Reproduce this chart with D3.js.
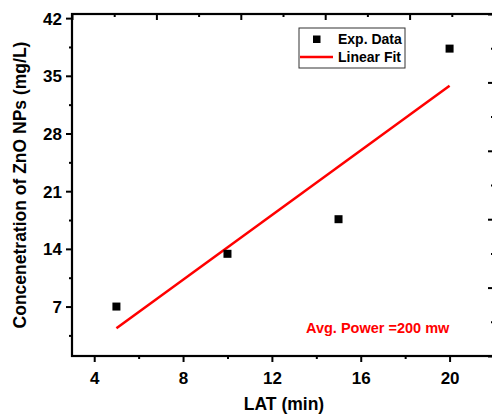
<!DOCTYPE html>
<html>
<head>
<meta charset="utf-8">
<script src="https://cdnjs.cloudflare.com/ajax/libs/d3/7.8.5/d3.min.js"></script>
<style>
  body { margin: 0; background: #fff; }
  text { font-family: "Liberation Sans", Arial, sans-serif; font-weight: bold; }
  .domain { display: none; }
</style>
</head>
<body>
<script>
var width = 492
var height = 417

// data
var lat = [5, 10, 15, 20]
var conc = [7.0, 13.4, 17.6, 38.3]
var xMajor = [4, 8, 12, 16, 20]
var xMinor = [6, 10, 14, 18]
var yMajor = [7, 14, 21, 28, 35, 42]
var yMinor = [3.5, 10.5, 17.5, 24.5, 31.5, 38.5]
var twinMajor = [0, 2, 4, 6, 8, 10]
var twinMinor = [1, 3, 5, 7, 9]

// plot box (window.top is reserved, so use other names)
var pLeft = 72, pRight = 494, pTop = 14, pBottom = 356

var svg = d3.select("body").append("svg")
    .attr("width", width)
    .attr("height", height)

var x = d3.scaleLinear().domain([3, 22]).range([pLeft, pRight])
var y = d3.scaleLinear().domain([1, 42.5]).range([pBottom, pTop])
var xt = d3.scaleLinear().domain([0, 10]).range([pLeft, pRight])
var yr = d3.scaleLinear().domain([0, 10]).range([pBottom, pTop])

function drawAxis(axis, tx, ty, size, labels) {
  var g = svg.append("g")
      .attr("transform", "translate(" + tx + "," + ty + ")")
      .call(axis.tickSize(size).tickPadding(4))
  g.selectAll(".tick line").attr("stroke", "#000").attr("stroke-width", 2)
  if (labels) g.selectAll(".tick text").attr("font-size", 17).attr("fill", "#000")
  else g.selectAll(".tick text").remove()
  return g
}

// bottom
drawAxis(d3.axisBottom(x).tickValues(xMajor).tickFormat(d3.format("d")), 0, pBottom, 6, true)
  .selectAll(".tick text").attr("dy", "1.05em")
drawAxis(d3.axisBottom(x).tickValues(xMinor), 0, pBottom, 3, false)
// left
drawAxis(d3.axisLeft(y).tickValues(yMajor).tickFormat(d3.format("d")), pLeft, 0, 6, true)
  .selectAll(".tick text").attr("dy", "0.36em")
drawAxis(d3.axisLeft(y).tickValues(yMinor), pLeft, 0, 3, false)
// top twin (ticks inward)
drawAxis(d3.axisTop(xt).tickValues(twinMajor), 0, pTop, -6, false)
drawAxis(d3.axisTop(xt).tickValues(twinMinor), 0, pTop, -3, false)
// right twin (ticks inward)
drawAxis(d3.axisRight(yr).tickValues(twinMajor), pRight, 0, -6, false)
drawAxis(d3.axisRight(yr).tickValues(twinMinor), pRight, 0, -3, false)

// frame
svg.append("rect")
    .attr("x", pLeft).attr("y", pTop)
    .attr("width", pRight - pLeft).attr("height", pBottom - pTop)
    .attr("fill", "none").attr("stroke", "#000").attr("stroke-width", 2.2)

// linear fit
var data = lat.map(function(d, i){ return {x: d, y: conc[i]} })
var mx = d3.mean(lat), my = d3.mean(conc)
var slope = d3.sum(data, function(d){ return (d.x - mx) * (d.y - my) }) /
            d3.sum(data, function(d){ return (d.x - mx) * (d.x - mx) })
var icpt = my - slope * mx
var fitX = d3.extent(lat)

svg.append("line")
    .attr("x1", x(fitX[0])).attr("y1", y(icpt + slope * fitX[0]))
    .attr("x2", x(fitX[1])).attr("y2", y(icpt + slope * fitX[1]))
    .attr("stroke", "#ff0000").attr("stroke-width", 2.5)

var sq = 8
svg.selectAll(".pt").data(data).enter()
    .append("rect")
    .attr("class", "pt")
    .attr("x", function(d){ return x(d.x) - sq / 2 })
    .attr("y", function(d){ return y(d.y) - sq / 2 })
    .attr("width", sq).attr("height", sq)
    .attr("fill", "#000")

// legend
var lg = svg.append("g")
lg.append("rect")
    .attr("x", 299).attr("y", 28).attr("width", 106).attr("height", 40)
    .attr("fill", "#fff").attr("stroke", "#333").attr("stroke-width", 1)
lg.append("rect")
    .attr("x", 313).attr("y", 35.5).attr("width", 7.5).attr("height", 7.5)
    .attr("fill", "#000")
lg.append("text").attr("x", 338).attr("y", 44).attr("font-size", 14).text("Exp. Data")
lg.append("line")
    .attr("x1", 300).attr("x2", 333).attr("y1", 57).attr("y2", 57)
    .attr("stroke", "#ff0000").attr("stroke-width", 2.5)
lg.append("text").attr("x", 338).attr("y", 62).attr("font-size", 14).text("Linear Fit")

// annotation
svg.append("text")
    .attr("x", 306).attr("y", 333)
    .attr("font-size", 14.5)
    .attr("fill", "#ff0000")
    .text("Avg. Power =200 mw")

// axis titles
svg.append("text")
    .attr("x", 284).attr("y", 410)
    .attr("text-anchor", "middle")
    .attr("font-size", 17.5)
    .text("LAT (min)")

svg.append("text")
    .attr("transform", "translate(26,185) rotate(-90)")
    .attr("text-anchor", "middle")
    .attr("font-size", 17.5)
    .text("Concenetration of ZnO NPs (mg/L)")
</script>
</body>
</html>
